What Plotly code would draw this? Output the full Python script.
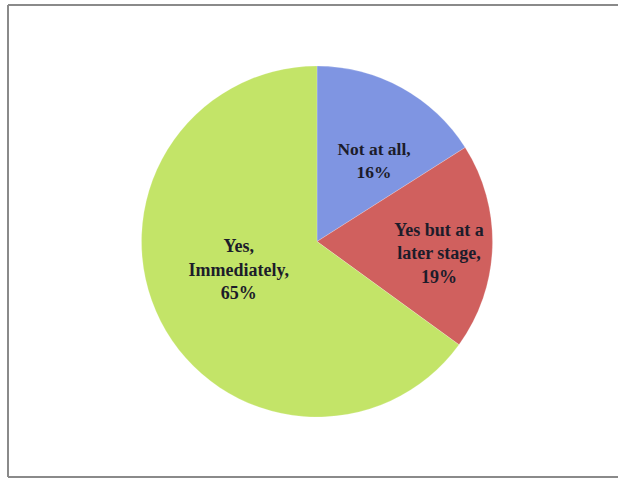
import plotly.graph_objects as go

labels = ["Not at all", "Yes but at a<br>later stage", "Yes,<br>Immediately"]
values = [16, 19, 65]
colors = ["#7f95e2", "#d0605e", "#c3e468"]
templates = [
    "\u00a0<br>\u00a0<br>%{label},<br>%{percent:.0%}",
    "\u00a0<br>%{label},<br>%{percent:.0%}",
    "%{label},<br>%{percent:.0%}<br>\u00a0",
]

W, H = 618, 479

fig = go.Figure(go.Pie(
    labels=labels,
    values=values,
    sort=False,
    direction="clockwise",
    rotation=0,
    marker=dict(colors=colors, line=dict(color="rgba(255,255,255,0.4)", width=0.5)),
    texttemplate=templates,
    textposition="inside",
    insidetextorientation="horizontal",
    textfont=dict(family="Liberation Serif", size=18, color="#1c1c2a", weight="bold"),
    hoverinfo="skip",
    showlegend=False,
    domain=dict(x=[141 / W, 493 / W], y=[(H - 417) / H, (H - 66) / H]),
))

fig.update_layout(
    width=W, height=H,
    margin=dict(l=0, r=0, t=0, b=0),
    paper_bgcolor="white",
    plot_bgcolor="white",
    shapes=[
        dict(type="line", xref="paper", yref="paper", x0=8 / W, x1=1.02, y0=1 - 5 / H, y1=1 - 5 / H,
             line=dict(color="#8a8a8a", width=2)),
        dict(type="line", xref="paper", yref="paper", x0=8 / W, x1=8 / W, y0=1 - 5 / H, y1=2 / H,
             line=dict(color="#8a8a8a", width=2)),
        dict(type="line", xref="paper", yref="paper", x0=8 / W, x1=1.02, y0=2 / H, y1=2 / H,
             line=dict(color="#8a8a8a", width=2)),
    ],
)

fig.write_html("out.html", config={"displayModeBar": False},
               post_script="document.body.style.margin='0';document.body.style.overflow='hidden';")
